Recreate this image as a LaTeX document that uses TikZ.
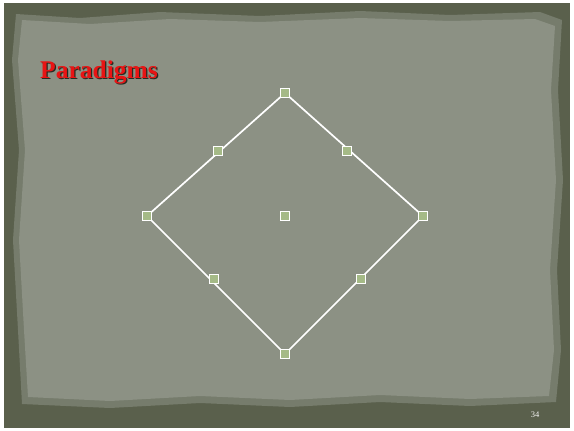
\documentclass[tikz,border=0pt]{standalone}
\usepackage{fontspec}
\setmainfont{Liberation Serif}
\begin{document}
\begin{tikzpicture}[x=1pt,y=-1pt,
  handle/.style={draw=white,line width=0.9pt,fill=handlefill,minimum size=9pt,inner sep=0pt,rectangle},
  edge/.style={draw=white,line width=1.7pt}]
\definecolor{frame}{RGB}{90,96,76}
\definecolor{paper}{RGB}{140,145,132}
\definecolor{paperedge}{RGB}{118,124,108}
\definecolor{handlefill}{RGB}{165,186,135}
\definecolor{titlered}{RGB}{232,20,20}
\useasboundingbox (0,0) rectangle (574,431);
\fill[white] (0,0) rectangle (574,431);
\fill[frame] (4,3) rectangle (570,428);
\fill[paperedge] (16,14) -- (80,18) -- (160,12) -- (260,16) -- (360,11) -- (450,15) -- (540,12) -- (562,20)
  -- (558,90) -- (563,180) -- (557,270) -- (561,350) -- (556,402) -- (470,406) -- (380,402) -- (290,407)
  -- (200,403) -- (110,408) -- (22,404) -- (18,330) -- (13,240) -- (19,150) -- (12,60) -- cycle;
\fill[paper] (22,20) -- (90,24) -- (170,19) -- (260,22) -- (360,18) -- (450,21) -- (535,19) -- (555,26)
  -- (551,90) -- (556,180) -- (550,270) -- (554,350) -- (549,396) -- (470,399) -- (380,395) -- (290,400)
  -- (200,396) -- (110,401) -- (28,397) -- (24,330) -- (19,240) -- (25,150) -- (18,60) -- cycle;
\node[anchor=base west,text=black!55!frame,font=\bfseries\fontsize{25.5}{25.5}\selectfont,inner sep=0pt] at (41.3,79.3) {Paradigms};
\node (title)[anchor=base west,text=titlered,font=\bfseries\fontsize{25.5}{25.5}\selectfont,inner sep=0pt] at (40,78) {Paradigms};
\coordinate (T) at (285,93);
\coordinate (R) at (423,216);
\coordinate (B) at (285,354);
\coordinate (L) at (147,216);
\draw[edge,line join=miter] (T) -- (R) -- (B) -- (L) -- cycle;
\node[handle] (hT) at (T) {};
\node[handle] (hR) at (R) {};
\node[handle] (hB) at (B) {};
\node[handle] (hL) at (L) {};
\node[handle] (hTL) at (218,151) {};
\node[handle] (hTR) at (347,151) {};
\node[handle] (hBL) at (214,279) {};
\node[handle] (hBR) at (361,279) {};
\node[handle] (hC) at (285,216) {};
\node (page)[text=white!90!paper,font=\fontsize{8.5}{8.5}\selectfont,inner sep=0pt] at (535,415) {34};
\end{tikzpicture}
\end{document}
